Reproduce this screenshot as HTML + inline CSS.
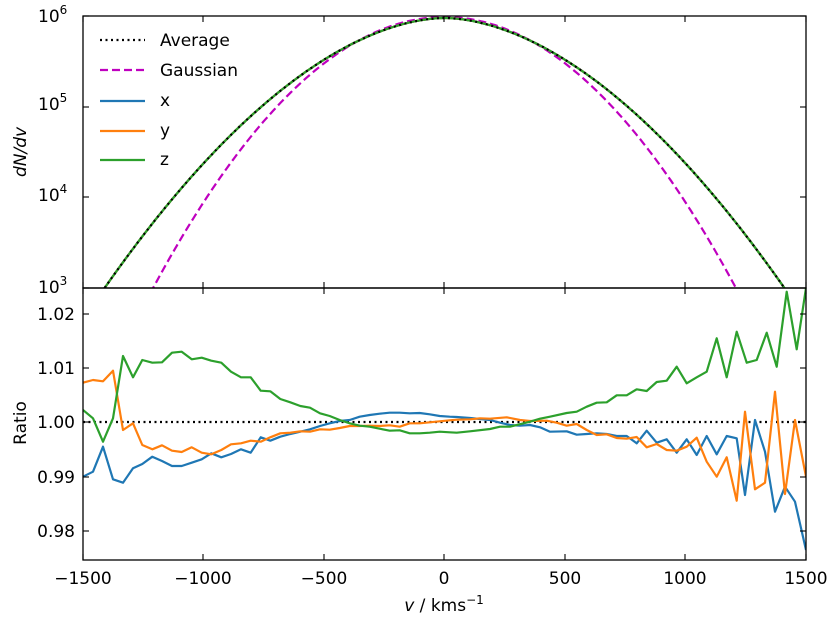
<!DOCTYPE html>
<html><head><meta charset="utf-8"><style>
body{margin:0;background:#fff}
svg{display:block}
text{font-family:"DejaVu Sans","Liberation Sans",sans-serif;font-size:17px;fill:#000}
</style></head><body>
<svg id="s" width="830" height="623" viewBox="0 0 830 623" xmlns="http://www.w3.org/2000/svg">
<defs>
<clipPath id="ct"><rect x="83" y="16" width="723" height="272"/></clipPath>
<clipPath id="cb"><rect x="83" y="288" width="723" height="272"/></clipPath>
</defs>
<g id="plots"></g>
<rect x="83" y="16" width="723" height="272" fill="none" stroke="#000" stroke-width="1.3"/>
<rect x="83" y="288" width="723" height="272" fill="none" stroke="#000" stroke-width="1.3"/>
<g id="ticks" stroke="#000" stroke-width="1.1"></g>
<text x="38" y="22">10<tspan dy="-8" font-size="12">6</tspan></text>
<text x="38" y="110">10<tspan dy="-8" font-size="12">5</tspan></text>
<text x="38" y="201">10<tspan dy="-8" font-size="12">4</tspan></text>
<text x="38" y="293">10<tspan dy="-8" font-size="12">3</tspan></text>
<text transform="translate(26,152) rotate(-90)" text-anchor="middle" font-style="italic">dN/dv</text>
<g text-anchor="end">
<text x="75" y="320">1.02</text>
<text x="75" y="374">1.01</text>
<text x="75" y="428">1.00</text>
<text x="75" y="483">0.99</text>
<text x="75" y="537">0.98</text>
</g>
<text transform="translate(26,423) rotate(-90)" text-anchor="middle">Ratio</text>
<g text-anchor="middle">
<text x="83" y="584">−1500</text>
<text x="203" y="584">−1000</text>
<text x="324" y="584">−500</text>
<text x="444" y="584">0</text>
<text x="565" y="584">500</text>
<text x="685" y="584">1000</text>
<text x="806" y="584">1500</text>
<text x="444" y="611"><tspan font-style="italic">v</tspan> / kms<tspan dy="-7" font-size="12">−1</tspan></text>
</g>
<line x1="100" y1="40" x2="145" y2="40" stroke="#000" stroke-width="2.2" stroke-dasharray="2,3.5"/>
<line x1="100" y1="70" x2="145" y2="70" stroke="#bf00bf" stroke-width="2.2" stroke-dasharray="8,4"/>
<line x1="100" y1="101" x2="145" y2="101" stroke="#1f77b4" stroke-width="2.2"/>
<line x1="100" y1="131" x2="145" y2="131" stroke="#ff7f0e" stroke-width="2.2"/>
<line x1="100" y1="160" x2="145" y2="160" stroke="#2ca02c" stroke-width="2.2"/>
<text x="160" y="46">Average</text>
<text x="160" y="76">Gaussian</text>
<text x="160" y="106">x</text>
<text x="160" y="136">y</text>
<text x="160" y="165">z</text>
</svg>
<script>
var NS="http://www.w3.org/2000/svg",g=document.getElementById("plots"),t=document.getElementById("ticks");
function pl(pts,col,w,dash,clip){var p=document.createElementNS(NS,"polyline");p.setAttribute("points",pts.map(function(a){return a[0].toFixed(1)+","+a[1].toFixed(1)}).join(" "));p.setAttribute("fill","none");p.setAttribute("stroke",col);p.setAttribute("stroke-width",w);p.setAttribute("stroke-linejoin","round");if(dash)p.setAttribute("stroke-dasharray",dash);p.setAttribute("clip-path","url(#"+clip+")");g.appendChild(p);}
var avg=[],gau=[];
for(var x=83;x<=806;x+=2){var d=Math.abs(x-444.5);
 avg.push([x,18+90.67*2.94*Math.pow(d/337.5,1.8)]);
 gau.push([x,17+90.67*3.52e-5*d*d]);}
function z2(a){return a.map(function(p){return [83+p[0]/3,290+p[1]/3]})}
function z3(a){return a.map(function(p){return [450+p[0]/3,290+p[1]/3]})}
var gr=z2([[0,360],[30,385],[60,455],[90,385],[120,198],[150,262],[178,210],[208,218],[237,217],[267,188],[296,185],[326,208],[356,203],[385,212],[415,218],[444,245],[474,262],[503,262],[533,302],[562,304],[592,327],[622,337],[652,348],[681,353],[711,370],[740,378],[770,390],[800,400],[830,407],[860,410],[890,416],[920,422],[950,421],[980,430],[1010,430],[1040,428],[1070,425],[1100,427]]).concat(z3([[20,428],[60,424],[120,417],[150,410],[180,410],[240,395],[270,386],[300,380],[350,369],[380,365],[410,350],[440,338],[470,337],[500,316],[530,316],[560,298],[590,303],[620,276],[650,272],[680,230],[710,280],[740,262],[770,245],[800,145],[830,262],[860,125],[890,218],[920,210],[950,128],[980,230],[1010,5],[1040,178],[1070,-20]]));
var bl=z2([[0,560],[30,545],[60,470],[90,568],[120,578],[150,535],[178,522],[208,500],[237,513],[267,528],[296,528],[326,518],[356,508],[385,490],[415,502],[444,492],[474,478],[503,488],[533,442],[562,452],[592,440],[622,432],[652,425],[681,418],[711,408],[740,400],[770,393],[800,390],[830,380],[860,375],[890,371],[920,368],[950,368],[980,370],[1010,369],[1040,373],[1070,378],[1100,380]]).concat(z3([[20,381],[60,384],[120,390],[150,398],[180,405],[210,407],[240,405],[270,412],[300,425],[350,424],[380,434],[410,432],[440,430],[470,432],[500,438],[530,438],[560,460],[590,422],[620,458],[650,448],[680,488],[710,448],[740,495],[770,438],[800,493],[830,438],[860,445],[885,615],[915,390],[945,485],[975,665],[1005,590],[1035,635],[1068,780]]));
var or=z2([[0,278],[30,270],[60,274],[90,242],[120,420],[150,400],[178,465],[208,478],[237,466],[267,482],[296,486],[326,472],[356,488],[385,493],[415,480],[444,463],[474,460],[503,452],[533,455],[562,442],[592,430],[622,428],[652,424],[681,425],[711,418],[740,419],[770,414],[800,408],[830,408],[860,407],[890,408],[920,406],[950,410],[980,400],[1010,400],[1040,397],[1070,394],[1100,391]]).concat(z3([[20,389],[60,388],[90,385],[120,386],[170,382],[210,390],[240,393],[290,392],[320,398],[350,407],[380,402],[410,420],[440,435],[470,433],[500,444],[530,446],[560,441],[590,472],[620,462],[650,480],[680,482],[710,470],[740,443],[770,515],[800,560],[830,502],[860,632],[885,365],[915,598],[945,578],[975,305],[1005,612],[1035,390],[1068,560]]));
pl(gau,"#bf00bf",2.2,"8,4","ct");
pl(avg,"#1f77b4",2.2,null,"ct");
pl(avg,"#ff7f0e",2.2,null,"ct");
pl(avg,"#2ca02c",2.2,null,"ct");
pl(avg,"#000",2.2,"2,3.5","ct");
pl([[83,422],[806,422]],"#000",2.2,"2,3.5","cb");
pl(bl,"#1f77b4",2.2,null,"cb");
pl(or,"#ff7f0e",2.2,null,"cb");
pl(gr,"#2ca02c",2.2,null,"cb");
function ln(a,b,c,d){var l=document.createElementNS(NS,"line");l.setAttribute("x1",a);l.setAttribute("y1",b);l.setAttribute("x2",c);l.setAttribute("y2",d);t.appendChild(l);}
[83,203,324,444,565,685,806].forEach(function(x){ln(x,16,x,22);ln(x,282,x,288);ln(x,288,x,294);ln(x,554,x,560);});
[16,107,197,288].forEach(function(y){ln(83,y,89,y);ln(800,y,806,y);});
[314,368,422,477,531].forEach(function(y){ln(83,y,89,y);ln(800,y,806,y);});
</script>
</body></html>
